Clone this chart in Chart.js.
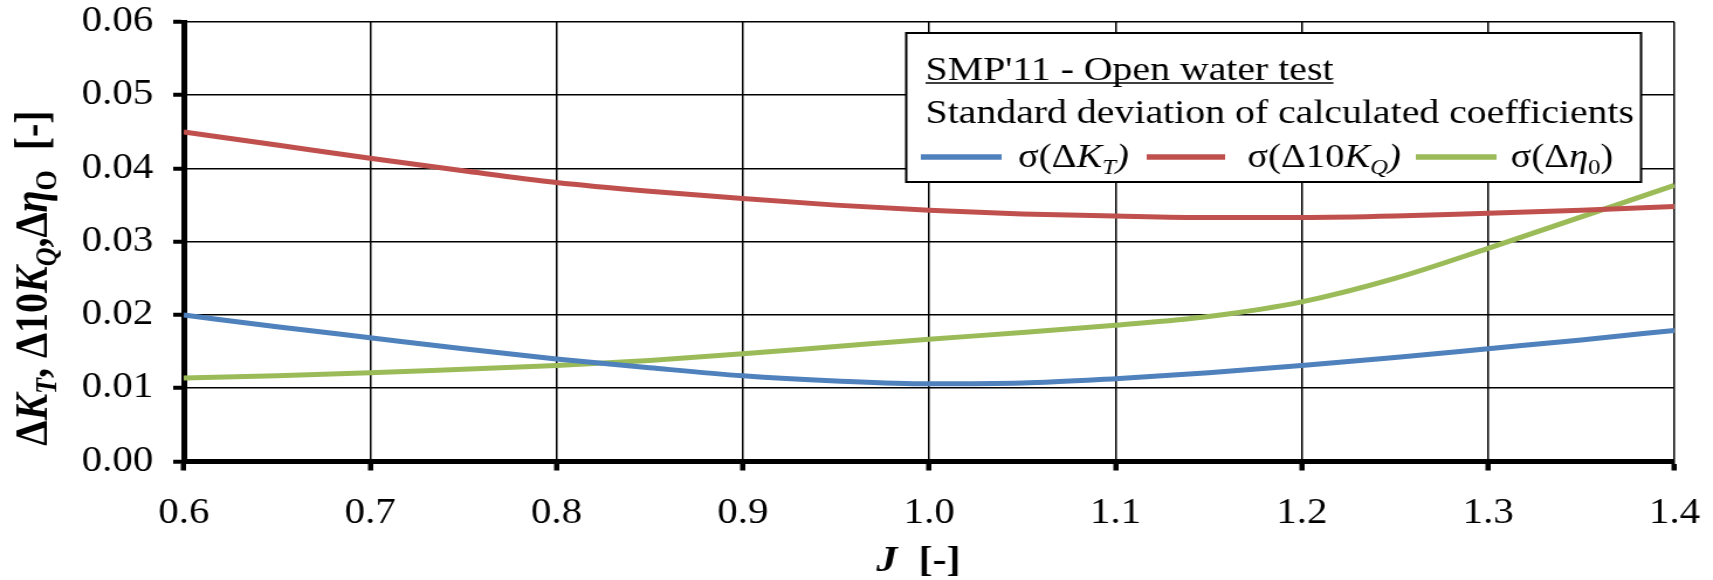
<!DOCTYPE html>
<html>
<head>
<meta charset="UTF-8">
<title>SMP'11 - Open water test</title>
<script src="https://cdn.jsdelivr.net/npm/chart.js"></script>
<style>
  html, body { margin: 0; padding: 0; background: #fff; }
  #chart { display: block; }
</style>
</head>
<body>
<!-- the source image is stretched ~1.17x horizontally, so draw narrow and stretch with css -->
<canvas id="chart" width="1464" height="580" style="width:1713px;height:580px"></canvas>
<script>
const jValues   = [0.60, 0.65, 0.70, 0.75, 0.80, 0.85, 0.90, 0.95, 1.00, 1.05, 1.10, 1.15, 1.20, 1.25, 1.30, 1.35, 1.40];
const sigmaKT   = [0.0200, 0.0184, 0.0169, 0.0154, 0.0140, 0.0128, 0.0117, 0.0110, 0.0106, 0.0107, 0.0113, 0.0121, 0.0131, 0.0142, 0.0154, 0.0166, 0.0179];
const sigma10KQ = [0.0450, 0.0432, 0.0414, 0.0397, 0.0381, 0.0369, 0.0359, 0.0350, 0.0343, 0.0338, 0.0335, 0.0333, 0.0333, 0.0335, 0.0339, 0.0343, 0.0348];
const sigmaEta0 = [0.0114, 0.0117, 0.0121, 0.0126, 0.0131, 0.0138, 0.0147, 0.0157, 0.0167, 0.0176, 0.0186, 0.0198, 0.0218, 0.0250, 0.0291, 0.0334, 0.0377];

const xTicks = [0.6, 0.7, 0.8, 0.9, 1.0, 1.1, 1.2, 1.3, 1.4];
const yTicks = [0, 0.01, 0.02, 0.03, 0.04, 0.05, 0.06];

const legendTitle = "SMP'11 - Open water test";
const legendSubtitle = 'Standard deviation of calculated coefficients';

const blue = '#4F81BD', red = '#C0504D', green = '#9BBB59';
const serif = '"Liberation Serif", "Times New Roman", serif';
const f = (size, style) => (style || '') + ' ' + size + 'px ' + serif;

function toPoints(ys) {
    return ys.map((y, i) => ({ x: jValues[i], y: y }));
}

// draw a row of text pieces with different fonts / offsets, returns end x
function drawRuns(ctx, parts, x, y) {
    parts.forEach(p => {
        ctx.font = p.f;
        ctx.fillText(p.t, x, y + (p.dy || 0));
        x += ctx.measureText(p.t).width;
    });
    return x;
}
function runsWidth(ctx, parts) {
    let w = 0;
    parts.forEach(p => { ctx.font = p.f; w += ctx.measureText(p.t).width; });
    return w;
}

const decorations = {
    id: 'decorations',
    afterDraw(chart) {
        const ctx = chart.ctx;
        ctx.save();
        ctx.fillStyle = '#000';
        ctx.textBaseline = 'alphabetic';
        ctx.textAlign = 'left';

        // y axis title
        const yt = [
            { t: 'Δ', f: f(40, 'bold') },
            { t: 'K', f: f(40, 'italic bold') },
            { t: 'T', f: f(26, 'italic bold'), dy: 8 },
            { t: ', Δ10', f: f(40, 'bold') },
            { t: 'K', f: f(40, 'italic bold') },
            { t: 'Q', f: f(26, 'italic bold'), dy: 8 },
            { t: ',Δ', f: f(40, 'bold') },
            { t: 'η', f: f(40, 'italic bold') },
            { t: 'O', f: f(26, 'bold'), dy: 8 },
            { t: '  [-]', f: f(40, 'bold') }
        ];
        ctx.save();
        ctx.translate(40, 278);
        ctx.rotate(-Math.PI / 2);
        drawRuns(ctx, yt, -runsWidth(ctx, yt) / 2, 0);
        ctx.restore();

        // x axis title
        const xt = [
            { t: 'J', f: f(36, 'italic bold') },
            { t: '  [-]', f: f(36, 'bold') }
        ];
        drawRuns(ctx, xt, 785 - runsWidth(ctx, xt) / 2, 571);

        // legend box
        const bx = 774.5, by = 33, bw = 628, bh = 149;
        ctx.fillStyle = '#fff';
        ctx.fillRect(bx, by, bw, bh);
        ctx.strokeStyle = '#000';
        ctx.lineWidth = 2;
        ctx.strokeRect(bx, by, bw, bh);

        ctx.fillStyle = '#000';
        ctx.font = f(34);
        ctx.fillText(legendTitle, 791, 79.5);
        const tw = ctx.measureText(legendTitle).width;
        ctx.lineWidth = 1.5;
        ctx.beginPath();
        ctx.moveTo(791, 83);
        ctx.lineTo(791 + tw, 83);
        ctx.stroke();
        ctx.fillText(legendSubtitle, 791, 122.5);

        const items = [
            { c: blue, x0: 787, x1: 856, tx: 870, parts: [
                { t: 'σ(Δ', f: f(33) }, { t: 'K', f: f(33, 'italic') },
                { t: 'T', f: f(21, 'italic'), dy: 7 }, { t: ')', f: f(33, 'italic') }] },
            { c: red, x0: 980, x1: 1047, tx: 1066, parts: [
                { t: 'σ(Δ10', f: f(33) }, { t: 'K', f: f(33, 'italic') },
                { t: 'Q', f: f(21, 'italic'), dy: 7 }, { t: ')', f: f(33, 'italic') }] },
            { c: green, x0: 1210, x1: 1279, tx: 1291, parts: [
                { t: 'σ(Δ', f: f(33) }, { t: 'η', f: f(33, 'italic') },
                { t: '0', f: f(21), dy: 7 }, { t: ')', f: f(33) }] }
        ];
        items.forEach(it => {
            ctx.strokeStyle = it.c;
            ctx.lineWidth = 5.5;
            ctx.beginPath();
            ctx.moveTo(it.x0, 157);
            ctx.lineTo(it.x1, 157);
            ctx.stroke();
            ctx.fillStyle = '#000';
            drawRuns(ctx, it.parts, it.tx, 167);
        });
        ctx.restore();
    }
};

const gridBase = { color: '#000', lineWidth: 1.5, tickLength: 9, tickColor: '#000' };

// keep chart.js from adding label overflow padding around the plot
function noPad(s) {
    s.paddingTop = 0; s.paddingBottom = 0; s.paddingLeft = 0; s.paddingRight = 0;
}

new Chart(document.getElementById('chart'), {
    type: 'line',
    data: {
        datasets: [
            { label: 'σ(ΔKT)', data: toPoints(sigmaKT), borderColor: blue },
            { label: 'σ(Δ10KQ)', data: toPoints(sigma10KQ), borderColor: red },
            { label: 'σ(Δη0)', data: toPoints(sigmaEta0), borderColor: green }
        ]
    },
    options: {
        responsive: false,
        animation: false,
        devicePixelRatio: 1,
        layout: { padding: { top: 22, right: 33, left: 0, bottom: 0 } },
        elements: {
            line: { borderWidth: 5, fill: false, cubicInterpolationMode: 'monotone' },
            point: { radius: 0, hoverRadius: 0 }
        },
        plugins: { legend: { display: false }, tooltip: { enabled: false } },
        scales: {
            x: {
                type: 'linear',
                min: 0.6,
                max: 1.4,
                afterBuildTicks: s => { s.ticks = xTicks.map(v => ({ value: v })); },
                afterFit: s => { s.height = 118.5; noPad(s); },
                ticks: {
                    callback: v => v.toFixed(1),
                    font: { family: serif, size: 35 },
                    color: '#000',
                    padding: 22,
                    maxRotation: 0,
                    autoSkip: false
                },
                grid: Object.assign({}, gridBase, { tickWidth: 4.5 }),
                border: { display: true, color: '#000', width: 5 }
            },
            y: {
                min: 0,
                max: 0.06,
                afterBuildTicks: s => { s.ticks = yTicks.map(v => ({ value: v })); },
                afterFit: s => { s.width = 157; noPad(s); },
                ticks: {
                    callback: v => v.toFixed(2),
                    font: { family: serif, size: 35 },
                    color: '#000',
                    padding: 17
                },
                grid: Object.assign({}, gridBase, { tickWidth: 4 }),
                border: { display: true, color: '#000', width: 5 }
            }
        }
    },
    plugins: [decorations]
});
</script>
</body>
</html>
